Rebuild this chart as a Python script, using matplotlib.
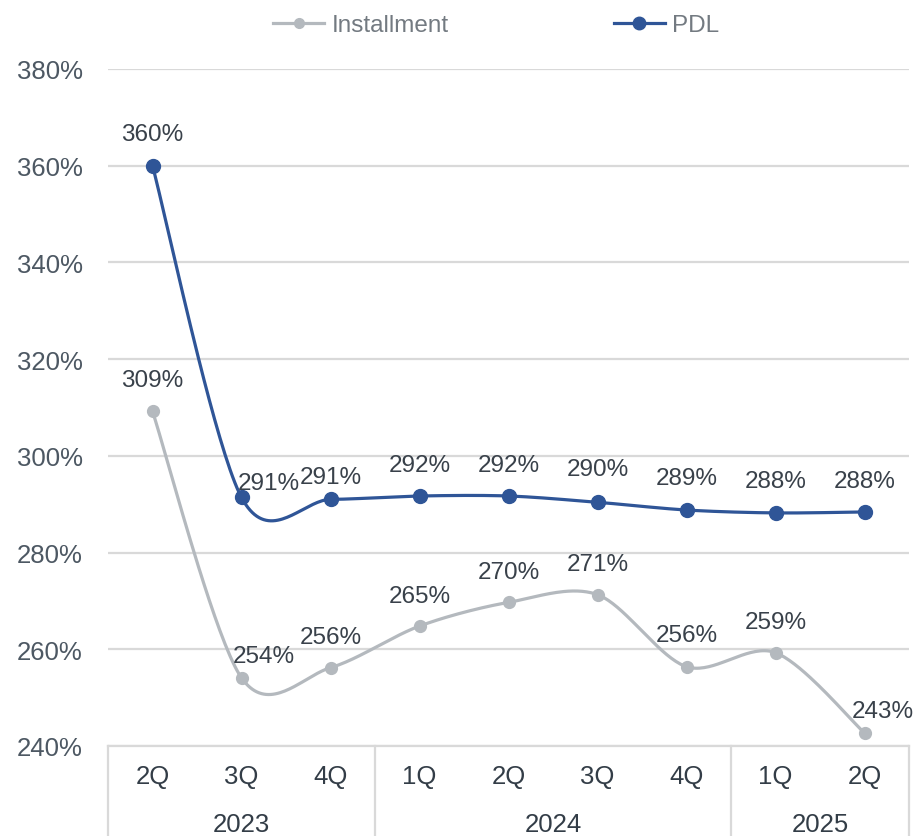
import numpy as np
import matplotlib
matplotlib.use("Agg")
import matplotlib.pyplot as plt
import matplotlib.transforms as mtransforms

plt.rcParams['font.family'] = ['Liberation Sans', 'DejaVu Sans']

# data
quarters = ["2Q", "3Q", "4Q", "1Q", "2Q", "3Q", "4Q", "1Q", "2Q"]
years = ["2023", "2024", "2025"]
year_counts = [3, 4, 2]
pdl = [360.0, 291.4, 291.0, 291.7, 291.7, 290.4, 288.8, 288.2, 288.4]
installment = [309.2, 254.1, 256.2, 264.8, 269.7, 271.3, 256.4, 259.3, 242.7]
pdl_labels = ["360%", "291%", "291%", "292%", "292%", "290%", "289%", "288%", "288%"]
inst_labels = ["309%", "254%", "256%", "265%", "270%", "271%", "256%", "259%", "243%"]

# label offsets in pixels (dx, dy)
pdl_off = [(0, 32), (27, 14), (0, 22), (0, 31), (0, 31), (0, 33), (0, 32), (0, 32), (0, 31)]
inst_off = [(0, 31), (22, 22), (0, 31), (0, 30), (0, 30), (0, 31), (0, 32), (0, 31), (18, 22)]

PDL_C = "#2f5597"
INST_C = "#b4b9be"
GRID_C = "#d9d9d9"


def smooth(x, y, n=40):
    # Excel-like smoothed line: cubic Bezier with Catmull-Rom control points
    x = np.asarray(x, float)
    y = np.asarray(y, float)
    P = np.column_stack([x, y])
    Pext = np.vstack([P[0], P, P[-1]])
    out = []
    t = np.linspace(0, 1, n)[:, None]
    for i in range(len(P) - 1):
        p0 = Pext[i + 1]
        p3 = Pext[i + 2]
        c1 = p0 + (Pext[i + 2] - Pext[i]) / 6.5
        c2 = p3 - (Pext[i + 3] - Pext[i + 1]) / 6.5
        seg = ((1 - t) ** 3) * p0 + 3 * ((1 - t) ** 2) * t * c1 + 3 * (1 - t) * t ** 2 * c2 + t ** 3 * p3
        out.append(seg if i == 0 else seg[1:])
    out = np.vstack(out)
    return out[:, 0], out[:, 1]


fig = plt.figure(figsize=(9.14, 8.37), dpi=100)
ax = fig.add_axes([108 / 914, 90 / 837, 801 / 914, 677 / 837])

xs = np.arange(len(quarters))

sx, sy = smooth(xs, installment)
ax.plot(sx, sy, color=INST_C, lw=2.3, zorder=3, solid_capstyle='round')
ax.plot(xs, installment, 'o', color=INST_C, ms=8.5, zorder=4)
sx, sy = smooth(xs, pdl)
ax.plot(sx, sy, color=PDL_C, lw=2.3, zorder=3, solid_capstyle='round')
ax.plot(xs, pdl, 'o', color=PDL_C, ms=10, zorder=4)

for i in range(len(xs)):
    ax.annotate(pdl_labels[i], (xs[i], pdl[i]), xytext=pdl_off[i], textcoords='offset pixels',
                ha='center', va='center', fontsize=17.5, color="#39414a", zorder=5)
    ax.annotate(inst_labels[i], (xs[i], installment[i]), xytext=inst_off[i], textcoords='offset pixels',
                ha='center', va='center', fontsize=17.5, color="#39414a", zorder=5)

ax.set_xlim(-0.5, len(quarters) - 0.5)
ax.set_ylim(240, 380)
ax.set_yticks(np.arange(240, 381, 20))
ax.set_yticklabels([f"{v}%" for v in range(240, 381, 20)])
ax.tick_params(axis='y', length=0, pad=18, labelsize=18.5, labelcolor="#4d5863")
ax.set_xticks([])
ax.grid(axis='y', color=GRID_C, lw=1.6)
ax.set_axisbelow(True)
for s in ["top", "right", "left"]:
    ax.spines[s].set_visible(False)
ax.spines["bottom"].set_color(GRID_C)
ax.spines["bottom"].set_linewidth(1.6)

# multi-level category axis
trans = mtransforms.blended_transform_factory(ax.transData, ax.transAxes)
for i, q in enumerate(quarters):
    ax.text(xs[i], -30 / 677, q, transform=trans, ha='center', va='center',
            fontsize=18.5, color="#333d47")
start = 0
bounds = [-0.5]
for yr, cnt in zip(years, year_counts):
    mid = start + (cnt - 1) / 2
    ax.text(mid, -78 / 677, yr, transform=trans, ha='center', va='center',
            fontsize=18.5, color="#333d47")
    start += cnt
    bounds.append(start - 0.5)
for b in bounds:
    ax.plot([b, b], [0, -100 / 677], transform=trans, color=GRID_C, lw=1.6, clip_on=False)

# legend
h1, = ax.plot([], [], '-o', color=INST_C, lw=2.3, ms=7)
h2, = ax.plot([], [], '-o', color=PDL_C, lw=2.3, ms=9)
leg = fig.legend([h1, h2], ["Installment", "PDL"], loc='center', bbox_to_anchor=(0.543, 1 - 26 / 837),
                 ncol=2, frameon=False, fontsize=17.5, handlelength=2.1, handletextpad=0.3,
                 columnspacing=6.8, labelcolor="#737a81")

fig.savefig("out.png", dpi=100)
